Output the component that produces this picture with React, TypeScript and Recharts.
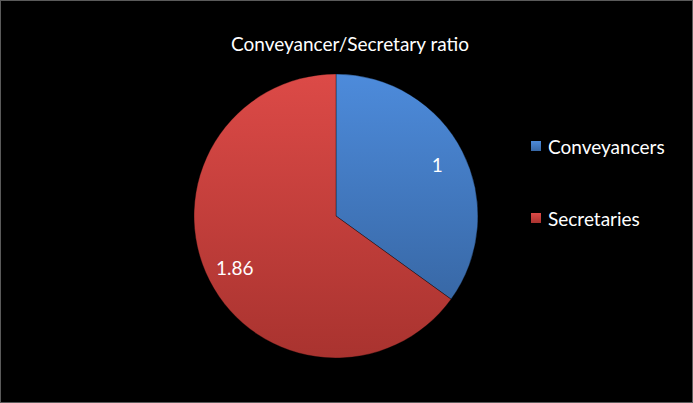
import { PieChart, Pie, Cell, Legend } from "recharts";

const categories = ["Conveyancers", "Secretaries"];
const values = [1, 1.86];
const labels = ["1", "1.86"];

const colors = [
  { top: "#4d8bdb", bottom: "#3868a6" },
  { top: "#dc4a47", bottom: "#a9332f" },
];

const data = categories.map((name, i) => ({ name, value: values[i], label: labels[i] }));

const RAD = Math.PI / 180;

function renderLabel(props: any) {
  const { cx, cy, midAngle, outerRadius, index } = props;
  const r = outerRadius * 0.8;
  const x = cx + r * Math.cos(-midAngle * RAD);
  const y = cy + r * Math.sin(-midAngle * RAD);
  return (
    <text
      x={x}
      y={y}
      fill="#ffffff"
      textAnchor="middle"
      dominantBaseline="central"
      fontFamily="Lato, 'Open Sans', sans-serif"
      fontSize={19}
    >
      {data[index].label}
    </text>
  );
}

function renderLegend() {
  return (
    <div style={{ fontFamily: "Lato, 'Open Sans', sans-serif", fontSize: 19, color: "#ffffff" }}>
      {data.map((d, i) => (
        <div
          key={d.name}
          style={{ display: "flex", alignItems: "center", height: 24, marginBottom: i === 0 ? 48 : 0 }}
        >
          <span
            style={{
              display: "inline-block",
              width: 10,
              height: 10,
              marginRight: 7,
              background: `linear-gradient(${colors[i].top}, ${colors[i].bottom})`,
            }}
          />
          {d.name}
        </div>
      ))}
    </div>
  );
}

export default function App() {
  return (
    <div
      style={{
        position: "fixed",
        left: 0,
        top: 0,
        width: 693,
        height: 403,
        background: "#000000",
        border: "1px solid #5a5a5a",
        boxSizing: "border-box",
        overflow: "hidden",
      }}
    >
      <div
        style={{
          position: "absolute",
          top: 31,
          left: 0,
          width: 698,
          textAlign: "center",
          fontFamily: "Lato, 'Open Sans', sans-serif",
          fontSize: 19,
          color: "#ffffff",
        }}
      >
        Conveyancer/Secretary ratio
      </div>
      <div style={{ position: "absolute", left: -1, top: -1 }}>
        <PieChart width={693} height={403} margin={{ top: 0, right: 0, bottom: 0, left: 0 }}>
          <defs>
            {colors.map((c, i) => (
              <linearGradient key={i} id={`grad${i}`} x1="0" y1="0" x2="0" y2="1">
                <stop offset="0%" stopColor={c.top} />
                <stop offset="100%" stopColor={c.bottom} />
              </linearGradient>
            ))}
          </defs>
          <Pie
            data={data}
            dataKey="value"
            nameKey="name"
            cx={336}
            cy={216}
            outerRadius={142}
            startAngle={90}
            endAngle={-270}
            stroke="rgba(0,0,0,0.35)"
            strokeWidth={1}
            label={renderLabel}
            labelLine={false}
            isAnimationActive={false}
          >
            {data.map((d, i) => (
              <Cell key={d.name} fill={`url(#grad${i})`} />
            ))}
          </Pie>
          <Legend
            content={renderLegend}
            layout="vertical"
            wrapperStyle={{ position: "absolute", left: 531, top: 134, width: 160 }}
          />
        </PieChart>
      </div>
    </div>
  );
}
